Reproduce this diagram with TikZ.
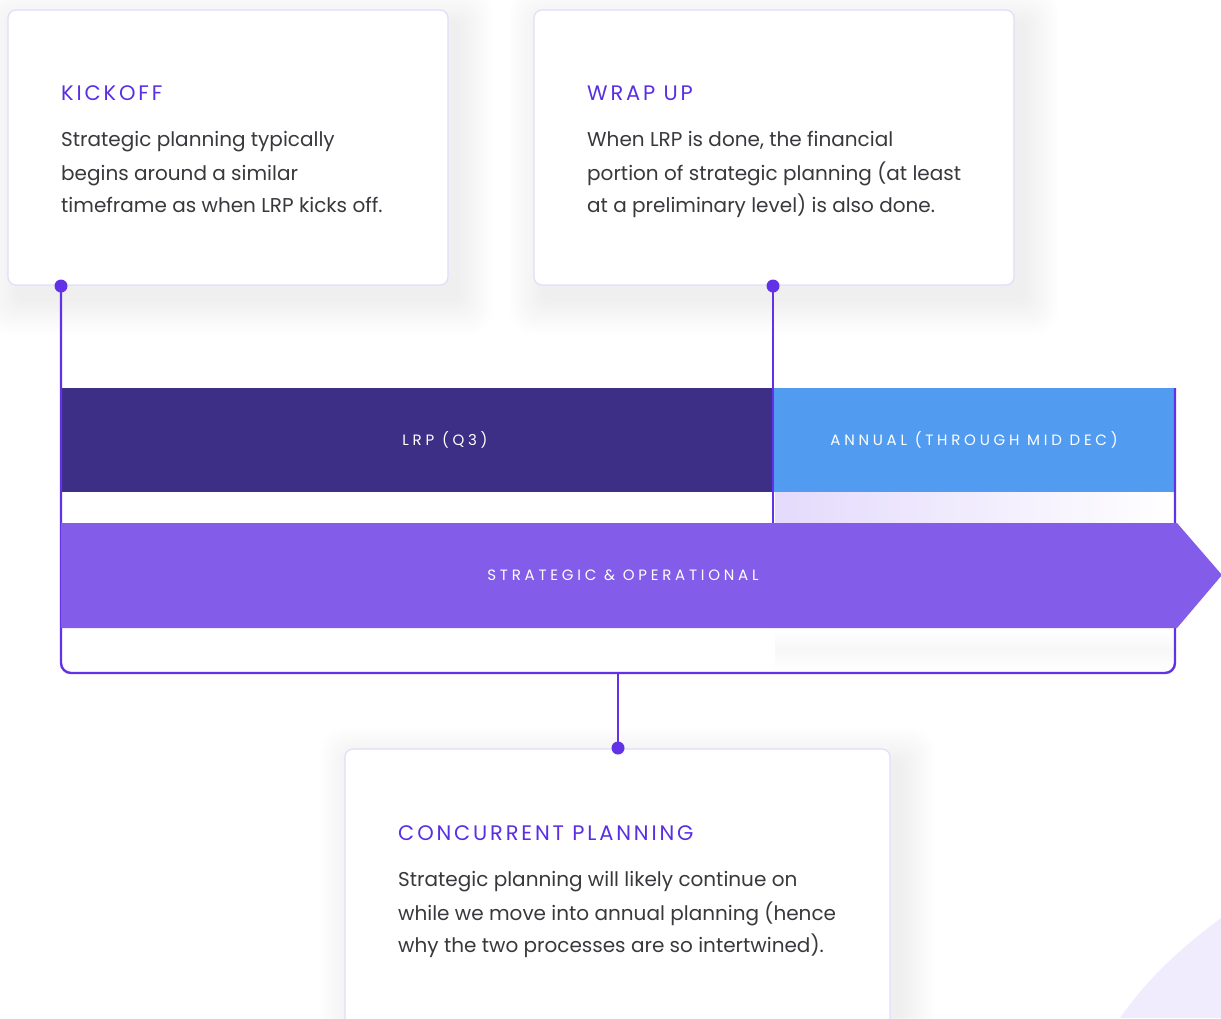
\documentclass[tikz,border=0pt]{standalone}
\usepackage{fontspec}
\setmainfont{Poppins}
\newfontfamily\titlefont[LetterSpace=13.5]{Poppins}
\newfontfamily\barfont[LetterSpace=25]{Poppins}

\definecolor{titlec}{HTML}{5A2FE3}
\definecolor{bodyc}{HTML}{38383D}
\definecolor{linec}{HTML}{6233E6}
\definecolor{lrpc}{HTML}{3D2E86}
\definecolor{annc}{HTML}{519CF1}
\definecolor{stratc}{HTML}{835CE9}
\definecolor{cardedge}{HTML}{E2DCFA}
\definecolor{glowc}{HTML}{E4DAFC}
\definecolor{cornerc}{HTML}{F0ECFD}
\definecolor{shadowc}{HTML}{3A3560}

\tikzset{
  card/.style={draw=cardedge, line width=1.2pt, fill=white, rounded corners=8pt},
  cardtitle/.style={anchor=base west, inner sep=0pt, text=titlec, font=\titlefont\fontsize{21}{24}\selectfont},
  cardline/.style={anchor=base west, inner sep=0pt, text=bodyc, font=\fontsize{20}{24}\selectfont},
  bar/.style={inner sep=0pt, minimum height=104pt},
  barlabel/.style={inner sep=0pt, text=white, font=\barfont\fontsize{15}{17}\selectfont},
  link/.style={draw=linec, line width=2.4pt},
  pin/.style={circle, fill=linec, inner sep=0pt, minimum size=13pt},
}

% soft drop shadow behind a card: #1,#2 = top left, #3,#4 = bottom right
\newcommand\cardshadow[4]{%
  \foreach \s in {1,...,16}{%
    \fill[shadowc, opacity=0.003, rounded corners=8pt+\s pt]
      (#1-\s*2.2+10, #2-\s*2.2+14) rectangle (#3+\s*2.2+10, #4+\s*2.2+14);
  }%
}

\begin{document}
\begin{tikzpicture}[x=1pt, y=-1pt]
\useasboundingbox (0,0) rectangle (1221,1018);
\fill[white] (0,0) rectangle (1221,1018);
\clip (0,0) rectangle (1221,1018);

% soft lavender corner shape
\fill[cornerc] (1120,1018) .. controls (1150,975) and (1185,945) .. (1221,918) -- (1221,1018) -- cycle;

% cards
\cardshadow{8}{10}{448}{285}
\cardshadow{534}{10}{1014}{285}
\cardshadow{345}{749}{890}{1040}
\path[card] (8,10) rectangle (448,285);
\path[card] (534,10) rectangle (1014,285);
\path[card] (345,749) rectangle (890,1040);

\node[cardtitle] (kt) at (61,100) {KICKOFF};
\node[cardline] (k1) at (61,146) {Strategic planning typically};
\node[cardline] (k2) at (61,180) {begins around a similar};
\node[cardline] (k3) at (61,212) {timeframe as when LRP kicks off.};

\node[cardtitle] (wt) at (587,100) {WRAP UP};
\node[cardline] (w1) at (587,146) {When LRP is done, the financial};
\node[cardline] (w2) at (587,180) {portion of strategic planning (at least};
\node[cardline] (w3) at (587,212) {at a preliminary level) is also done.};

\node[cardtitle] (ct) at (398,840) {CONCURRENT PLANNING};
\node[cardline] (c1) at (398,886) {Strategic planning will likely continue on};
\node[cardline] (c2) at (398,920) {while we move into annual planning (hence};
\node[cardline] (c3) at (398,952) {why the two processes are so intertwined).};

% faint glow under the annual bar
\shade[left color=glowc, right color=white] (775,492) rectangle (1175,523);
\shade[top color=white, bottom color=white, middle color=black!3] (775,628) rectangle (1175,672);

% timeline bars
\node[bar, fill=lrpc, minimum width=712pt] (lrp) at (417,440) {};
\node[bar, fill=annc, minimum width=402pt] (ann) at (974,440) {};
\node[barlabel] (lrpl) at (445,440) {LRP (Q3)};
\node[barlabel] (annl) at (974,440) {ANNUAL (THROUGH MID DEC)};

% pins and connectors
\node[pin] (pk) at (61,286) {};
\node[pin] (pw) at (773,286) {};
\node[pin] (pc) at (618,748) {};
\coordinate (bl) at (61,673);
\coordinate (br) at (1175,673);
\coordinate (rt) at (1175,388);
\coordinate (stem) at (618,673);

\draw[link, rounded corners=10pt] (pk.center) -- (bl) -- (br) -- (rt);
\draw[link] (pw.center) -- (773,523);
\draw[link] (stem) -- (pc.center);

% strategic & operational arrow
\fill[stratc] (61,523) -- (1177,523) -- (1222,575) -- (1177,628) -- (61,628) -- cycle;
\node[barlabel] (strat) at (623,575) {STRATEGIC \& OPERATIONAL};

\end{tikzpicture}
\end{document}
